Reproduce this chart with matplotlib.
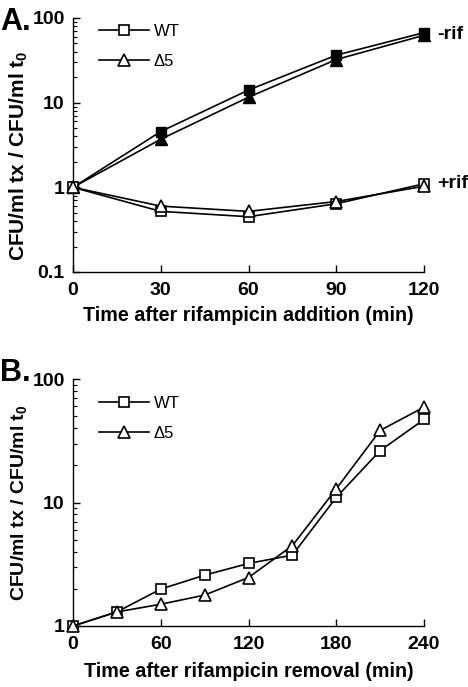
import matplotlib
matplotlib.use("Agg")
import matplotlib.pyplot as plt
from matplotlib.ticker import LogLocator, NullFormatter, FixedLocator
from matplotlib.lines import Line2D

plt.rcParams['font.family'] = ['Liberation Sans', 'DejaVu Sans']
plt.rcParams['mathtext.fontset'] = 'custom'
plt.rcParams['mathtext.bf'] = 'Liberation Sans:bold'
plt.rcParams['mathtext.rm'] = 'Liberation Sans'

# Panel A data
time_a = [0, 30, 60, 90, 120]
wt_minus_rif = [1, 4.56, 14.1, 36.4, 67.2]
d5_minus_rif = [1, 3.7, 11.6, 32.3, 62.5]
wt_plus_rif = [1, 0.52, 0.45, 0.64, 1.1]
d5_plus_rif = [1, 0.60, 0.52, 0.68, 1.03]
xticks_a = [0, 30, 60, 90, 120]

# Panel B data
time_b = [0, 30, 60, 90, 120, 150, 180, 210, 240]
wt_b = [1, 1.3, 1.99, 2.58, 3.21, 3.75, 11.0, 26.3, 47]
d5_b = [1, 1.3, 1.5, 1.78, 2.47, 4.47, 12.9, 38.3, 59.2]
xticks_b = [0, 60, 120, 180, 240]

W, H = 468, 687
fig = plt.figure(figsize=(W / 100, H / 100), dpi=100)

def frac(l, t, r, b):
    return [l / W, (H - b) / H, (r - l) / W, (b - t) / H]

axA = fig.add_axes(frac(73, 18, 424, 272))
axB = fig.add_axes(frac(73, 379, 424, 626))

lw = 1.2
ms = 7
tri_ms = 9
TICKFS = 14
LABFS = 14.2

def style(ax, ylo, yhi, xmax, xticks, ylab_fs, ylab_y):
    ax.set_yscale('log')
    ax.set_ylim(ylo, yhi)
    ax.set_xlim(0, xmax)
    ax.spines['top'].set_visible(False)
    ax.spines['right'].set_visible(False)
    for s in ('left', 'bottom'):
        ax.spines[s].set_linewidth(1.0)
    ax.xaxis.set_major_locator(FixedLocator(xticks))
    ax.set_xticklabels([str(v) for v in xticks], fontweight='bold', fontsize=TICKFS)
    ax.yaxis.set_minor_locator(LogLocator(base=10, subs=range(2, 10), numticks=10))
    ax.yaxis.set_minor_formatter(NullFormatter())
    ax.tick_params(axis='both', which='major', direction='in', length=5, width=1.0)
    ax.tick_params(axis='y', which='minor', direction='in', length=3, width=0.8)
    ax.tick_params(axis='x', which='major', pad=7)
    ax.tick_params(axis='y', which='major', pad=6)
    ax.set_ylabel('CFU/ml tx / CFU/ml t$_\\mathbf{0}$', fontweight='bold', fontsize=ylab_fs)
    ax.yaxis.set_label_coords(-0.122, ylab_y)

# ---- Panel A ----
axA.plot(time_a, wt_minus_rif, '-', color='black', lw=lw, marker='s', ms=ms, mfc='black', mec='black', clip_on=False, zorder=3)
axA.plot(time_a, d5_minus_rif, '-', color='black', lw=lw, marker='^', ms=tri_ms, mfc='black', mec='black', clip_on=False, zorder=3)
axA.plot(time_a, wt_plus_rif, '-', color='black', lw=lw, marker='s', ms=ms, mfc='white', mec='black', mew=1.2, clip_on=False, zorder=3)
axA.plot(time_a, d5_plus_rif, '-', color='black', lw=lw, marker='^', ms=tri_ms, mfc='white', mec='black', mew=1.2, clip_on=False, zorder=4)
style(axA, 0.1, 100, 120, xticks_a, 15, 0.457)
axA.set_yticks([0.1, 1, 10, 100])
axA.set_yticklabels(['0.1', '1', '10', '100'], fontweight='bold', fontsize=TICKFS)
axA.set_xlabel('Time after rifampicin addition (min)', fontweight='bold', fontsize=LABFS, labelpad=5)
axA.annotate('-rif', xy=(120, wt_minus_rif[-1]), xytext=(9.5, -1), textcoords='offset points',
             fontweight='bold', fontsize=14, va='center', ha='left', annotation_clip=False)
axA.annotate('+rif', xy=(120, wt_plus_rif[-1]), xytext=(9.5, 0), textcoords='offset points',
             fontweight='bold', fontsize=14, va='center', ha='left', annotation_clip=False)

# ---- Panel B ----
axB.plot(time_b, wt_b, '-', color='black', lw=lw, marker='s', ms=ms, mfc='white', mec='black', mew=1.2, clip_on=False, zorder=3)
axB.plot(time_b, d5_b, '-', color='black', lw=lw, marker='^', ms=tri_ms, mfc='white', mec='black', mew=1.2, clip_on=False, zorder=4)
style(axB, 1, 100, 240, xticks_b, 14, 0.5)
axB.set_yticks([1, 10, 100])
axB.set_yticklabels(['1', '10', '100'], fontweight='bold', fontsize=TICKFS)
axB.set_xlabel('Time after rifampicin removal (min)', fontweight='bold', fontsize=LABFS, labelpad=7)

# Legends
handles = [
    Line2D([], [], color='black', lw=lw, marker='s', ms=ms, mfc='white', mec='black', mew=1.2),
    Line2D([], [], color='black', lw=lw, marker='^', ms=tri_ms, mfc='white', mec='black', mew=1.2),
]
for ax, y in ((axA, 1.022), (axB, 0.978)):
    ax.legend(handles, ['WT', 'Δ5'], loc='upper left', bbox_to_anchor=(0.04, y), frameon=False,
              fontsize=12, handlelength=3.0, handletextpad=0.3, labelspacing=0.9, borderaxespad=0.3)

fig.text(0 / W, 1 - 22 / H, 'A.', fontsize=22, fontweight='bold', va='center', ha='left')
fig.text(0 / W, 1 - 373 / H, 'B.', fontsize=22, fontweight='bold', va='center', ha='left')

fig.savefig('out.png', dpi=100)
